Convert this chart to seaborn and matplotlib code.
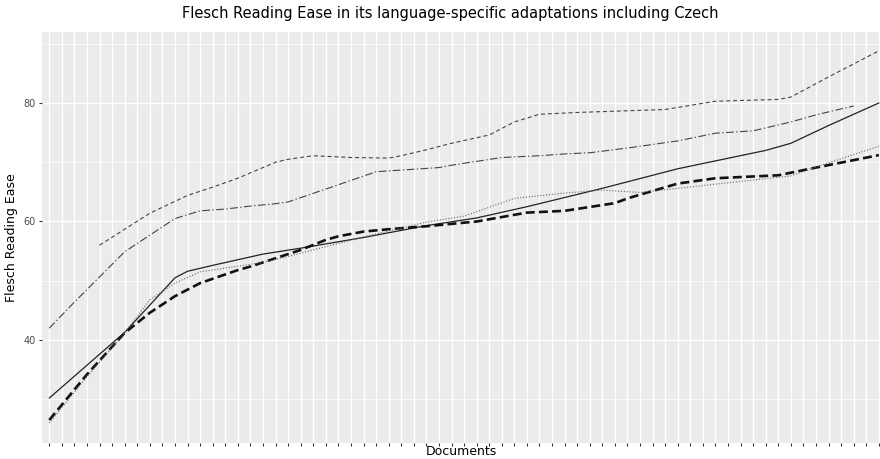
import matplotlib
matplotlib.use("Agg")
import matplotlib.pyplot as plt
import numpy as np
import pandas as pd
import seaborn as sns

# Values (document index -> Flesch Reading Ease)
n_docs = 67

solid_docs = [0, 6, 10, 11, 13, 17, 20, 25, 30, 34, 38, 44, 50, 57, 59, 62, 66]
solid_vals = [30.2, 41.3, 50.5, 51.6, 52.6, 54.5, 55.5, 57.3, 59.3, 60.6, 62.5, 65.6,
              68.9, 72.0, 73.2, 76.2, 80.0]

thick_docs = [0, 3, 6, 8, 10, 12, 15, 16, 20, 22, 23, 25, 27, 30, 34, 38, 41, 45, 46, 50, 53,
              58, 61, 66]
thick_vals = [26.5, 34.2, 41.2, 44.6, 47.4, 49.6, 51.8, 52.4, 55.2, 56.9, 57.5, 58.3, 58.7, 59.2,
              60.0, 61.5, 61.8, 63.1, 63.9, 66.4, 67.3, 67.8, 69.1, 71.2]

dotted_docs = [0, 3, 6, 8, 10, 12, 17, 19, 25, 30, 33, 37, 41, 44, 47, 50, 59, 61, 66]
dotted_vals = [26.0, 33.8, 41.2, 46.8, 49.6, 51.5, 53.1, 54.1, 57.4, 59.9, 60.9, 63.9, 64.8,
               65.3, 64.9, 65.6, 67.7, 69.2, 72.7]

dashdot_docs = [0, 2, 6, 10, 12, 14, 16, 18, 19, 23, 26, 31, 32, 36, 39, 41, 43, 46, 50,
                53, 56, 59, 61, 64]
dashdot_vals = [42.0, 46.4, 54.9, 60.5, 61.8, 62.1, 62.6, 63.0, 63.3, 66.2, 68.4, 69.1, 69.5,
                70.8, 71.1, 71.4, 71.6, 72.4, 73.6, 74.9, 75.3, 76.8, 78.0, 79.5]

dashed_docs = [4, 8, 11, 13, 15, 18, 19, 21, 24, 27, 28, 30, 32, 35, 37, 39, 42, 49, 53,
               58, 59, 62, 66]
dashed_vals = [56.0, 61.4, 64.4, 65.8, 67.3, 70.0, 70.5, 71.1, 70.8, 70.7, 71.1, 72.1, 73.2,
               74.6, 76.8, 78.1, 78.4, 78.9, 80.3, 80.6, 81.0, 84.4, 88.8]

sns.set_theme(style="darkgrid", rc={
    "axes.facecolor": "#EBEBEB",
    "grid.color": "white",
    "axes.edgecolor": "#EBEBEB",
    "xtick.color": "#333333",
    "ytick.color": "#333333",
    "xtick.bottom": True,
    "ytick.left": True,
})
plt.rcParams["font.family"] = ["DejaVu Sans"]

fig = plt.figure(figsize=(8.8, 4.59), dpi=100)
ax = fig.add_axes([42 / 880, 16.3 / 459, 838 / 880, 410.7 / 459])

sns.lineplot(x=solid_docs, y=solid_vals, ax=ax, color="#222222", linewidth=0.9)
sns.lineplot(x=thick_docs, y=thick_vals, ax=ax, color="#111111", linewidth=1.9).lines[-1].set_dashes((3.4, 1.6))
sns.lineplot(x=dotted_docs, y=dotted_vals, ax=ax, color="#666666", linewidth=0.8).lines[-1].set_dashes((1, 1.6))
sns.lineplot(x=dashdot_docs, y=dashdot_vals, ax=ax, color="#444444", linewidth=0.8).lines[-1].set_dashes((7, 2.2, 1.2, 2.2))
sns.lineplot(x=dashed_docs, y=dashed_vals, ax=ax, color="#444444", linewidth=0.8).lines[-1].set_dashes((3.6, 2.6))

ax.set_xlim(-0.58, 66.09)
ax.set_ylim(22.67, 91.98)
ax.set_xticks(np.arange(n_docs))
ax.set_xticklabels([])
ax.set_yticks([40, 60, 80])
ax.set_yticks([30, 50, 70, 90], minor=True)
ax.grid(which="major", color="white", linewidth=1.0)
ax.grid(which="minor", axis="y", color="white", linewidth=0.5)
ax.tick_params(axis="both", which="major", length=2.5, width=0.8, color="#333333",
               labelsize=7, labelcolor="#4D4D4D", pad=2, bottom=True, left=True)
ax.tick_params(axis="y", which="minor", length=0)
for s in ax.spines.values():
    s.set_visible(False)

ax.set_xlabel("Documents", fontsize=9, color="black", labelpad=-2.5)
ax.set_ylabel("Flesch Reading Ease", fontsize=9, color="black", labelpad=4)
fig.suptitle("Flesch Reading Ease in its language-specific adaptations including Czech",
             x=0.512, y=0.988, va="top", fontsize=10.5, color="black")

fig.savefig("out.png", dpi=100)
